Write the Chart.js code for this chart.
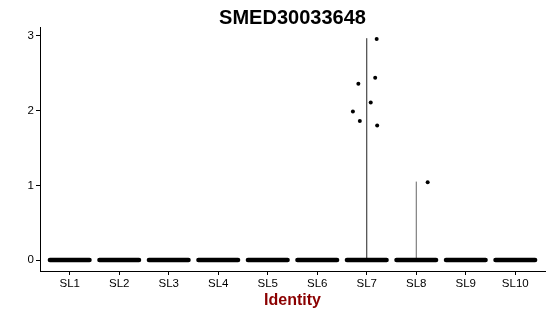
<!DOCTYPE html>
<html>
<head>
<meta charset="utf-8">
<script src="https://cdn.jsdelivr.net/npm/chart.js@4"></script>
<style>
  body { margin: 0; background: #fff; }
</style>
</head>
<body>
<canvas id="myChart" width="550" height="316"></canvas>
<script>
// groups and values
var categories = ['SL1', 'SL2', 'SL3', 'SL4', 'SL5', 'SL6', 'SL7', 'SL8', 'SL9', 'SL10'];
var violinMax = [0, 0, 0, 0, 0, 0, 2.97, 1.05, 0, 0]; // top of each violin
var pointGroup = ['SL7', 'SL7', 'SL7', 'SL7', 'SL7', 'SL7', 'SL7', 'SL8'];
var pointValue = [2.96, 2.44, 2.36, 2.11, 1.99, 1.86, 1.80, 1.04];
var pointJitter = [0.20, 0.17, -0.17, 0.08, -0.28, -0.14, 0.21, 0.23];
var yTicks = [0, 1, 2, 3];

var bandHalf = 0.4; // jitter spread of the zero points

var datasets = [];
// the mass of zero cells in each group
for (var i = 0; i < categories.length; i++) {
    datasets.push({
        type: 'line',
        data: [{ x: i + 1 - bandHalf, y: 0 }, { x: i + 1 + bandHalf, y: 0 }],
        borderColor: '#000',
        borderWidth: 4.5,
        borderCapStyle: 'round',
        pointRadius: 0
    });
}
// violins are only a thin stem since nearly every cell is 0
for (var i = 0; i < categories.length; i++) {
    if (violinMax[i] <= 0) continue;
    datasets.push({
        type: 'line',
        data: [{ x: i + 1, y: 0 }, { x: i + 1, y: violinMax[i] }],
        borderColor: i == 6 ? '#222' : '#666',
        borderWidth: 1,
        pointRadius: 0
    });
}
// non-zero cells
var pts = [];
for (var k = 0; k < pointValue.length; k++) {
    pts.push({ x: categories.indexOf(pointGroup[k]) + 1 + pointJitter[k], y: pointValue[k] });
}
datasets.push({
    type: 'scatter',
    data: pts,
    backgroundColor: '#000',
    borderColor: '#000',
    pointRadius: 2,
    borderWidth: 0
});

var titles = {
    id: 'titles',
    afterDraw: function (chart) {
        var c = chart.ctx;
        var a = chart.chartArea;
        var mid = (a.left + a.right) / 2;
        c.save();
        c.textAlign = 'center';
        c.textBaseline = 'alphabetic';
        c.fillStyle = '#000';
        c.font = 'bold 20px "Liberation Sans", Arial, sans-serif';
        c.fillText('SMED30033648', mid, 24);
        c.fillStyle = '#8B0000';
        c.font = 'bold 16px "Liberation Sans", Arial, sans-serif';
        c.fillText('Identity', mid, 305);
        c.restore();
    }
};

var tickFont = { family: '"Liberation Sans", Arial, sans-serif', size: 11.5 };

var ctx = document.getElementById('myChart').getContext('2d');
var myChart = new Chart(ctx, {
    data: { datasets: datasets },
    options: {
        responsive: false,
        animation: false,
        layout: { padding: { top: 27, right: 5, left: 0, bottom: 0 } },
        plugins: {
            legend: { display: false },
            tooltip: { enabled: false }
        },
        scales: {
            x: {
                type: 'linear',
                min: 0.4,
                max: 10.6,
                afterBuildTicks: function (scale) {
                    scale.ticks = categories.map(function (c, i) { return { value: i + 1 }; });
                },
                afterFit: function (scale) { scale.height = 45; },
                ticks: {
                    color: '#000',
                    font: tickFont,
                    padding: 2,
                    callback: function (v) { return categories[v - 1]; }
                },
                grid: { drawOnChartArea: false, tickLength: 4, color: '#000', tickWidth: 1 },
                border: { color: '#000', width: 1 }
            },
            y: {
                type: 'linear',
                min: -0.147,
                max: 3.12,
                afterBuildTicks: function (scale) {
                    scale.ticks = yTicks.map(function (v) { return { value: v }; });
                },
                afterFit: function (scale) { scale.width = 40; },
                ticks: { color: '#000', font: tickFont, padding: 2 },
                grid: { drawOnChartArea: false, tickLength: 4, color: '#000', tickWidth: 1 },
                border: { color: '#000', width: 1 }
            }
        }
    },
    plugins: [titles]
});
</script>
</body>
</html>
